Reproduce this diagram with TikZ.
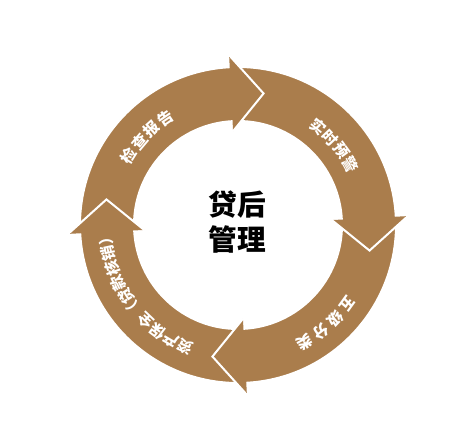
\documentclass[tikz,border=0pt]{standalone}
\usepackage{fontspec}
\usepackage{tikz}
\newfontfamily\cjk{Noto Sans CJK SC}
\definecolor{ringbrown}{RGB}{170,125,76}

\tikzset{
  segbody/.style={fill=ringbrown, draw=white, line width=1.5pt},
  seghead/.style={fill=ringbrown},
  headedge/.style={draw=white, line width=1.5pt, line join=miter},
  arctext/.style={inner sep=0pt, text=white, font=\cjk\bfseries\fontsize{11.5}{12}\selectfont},
  hubtext/.style={inner sep=0pt, align=center, text=black, font=\cjk\bfseries\fontsize{21.5}{26}\selectfont}
}

% characters set one by one along the ring: start angle, step, radius, name, list
\newcommand{\ringlabel}[5]{%
  \foreach \ch [count=\i from 0] in {#5} {
    \pgfmathsetmacro{\ang}{#1-\i*#2}
    \pgfmathsetmacro{\rot}{\ang-90}
    \node[arctext, rotate=\rot] (#4-\i) at (\ang:#3) {\ch};
  }}

\begin{document}
\begin{tikzpicture}[x=0.75pt,y=0.75pt]
%background, sets the margins
\fill[white] (-238,-206) rectangle (228,225);

%ring bodies, each one runs under the head before it
\foreach \b in {93,3,-87,-177} {
  \draw[segbody] ({\b+88}:158) arc[start angle=\b+88, end angle=\b-1, radius=158]
    -- ({\b-1}:104) arc[start angle=\b-1, end angle=\b+88, radius=104] -- cycle;
}
%arrow heads
\foreach \b in {93,3,-87,-177} {
  \fill[seghead] ({\b}:170) -- ({\b-14}:134) -- ({\b}:94) -- cycle;
  \draw[headedge] ({\b}:170) -- ({\b-14}:134) -- ({\b}:94);
}

% Text Node
\node[hubtext] (hub) at (-1,3) {贷后\\管理};

% ring labels
\ringlabel{147.7}{7.8}{129}{check}{检,查,报,告}
\ringlabel{50.8}{7.5}{127}{warn}{实,时,预,警}
\ringlabel{-35.9}{8.1}{135}{grade}{五,级,分,类}
\ringlabel{-113.4}{6.8}{133}{asset}{资,产,保,全,（,贷,款,核,销,）}

\end{tikzpicture}
\end{document}
